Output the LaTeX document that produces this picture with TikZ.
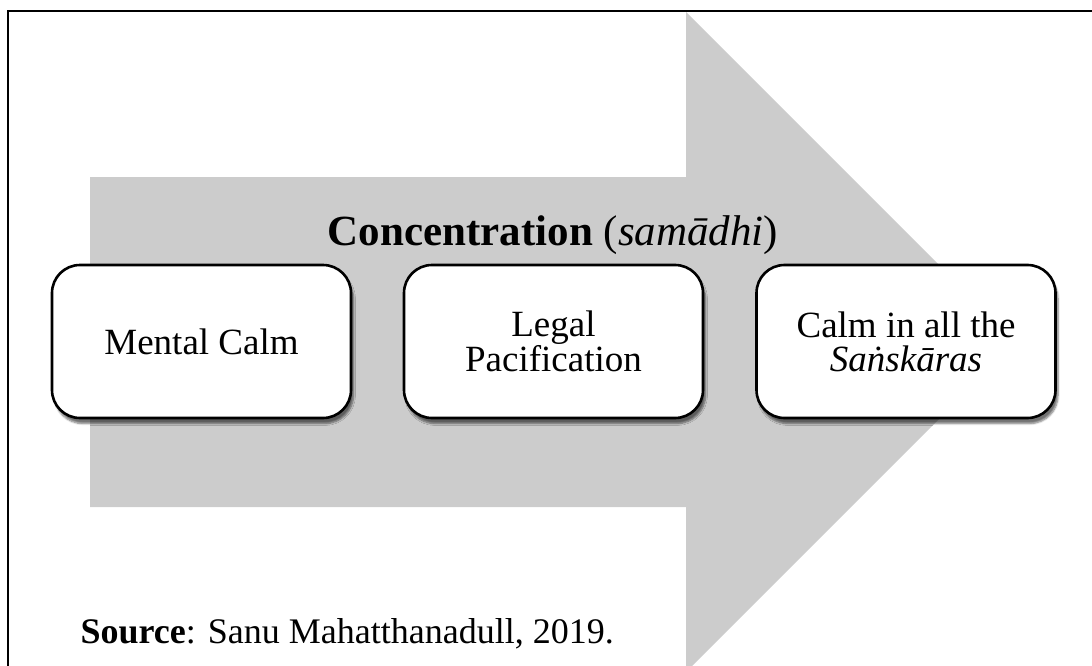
\documentclass[tikz,border=0pt]{standalone}
\usepackage{fontspec}
\setmainfont{Liberation Serif}
\usetikzlibrary{shadows.blur}
\definecolor{arrowgray}{RGB}{204,204,204}
\begin{document}
\begin{tikzpicture}[x=1pt,y=-1pt,
  stepbox/.style={draw=black, line width=2.6pt, rounded corners=28pt, fill=white,
    minimum width=299pt, minimum height=153pt, inner sep=0pt, align=center,
    font=\fontsize{37}{34}\selectfont,
    blur shadow={shadow xshift=2.5pt, shadow yshift=-5.5pt, shadow opacity=55, shadow blur steps=6}},
  frame/.style={line width=2.2pt, draw=black},
]
\useasboundingbox (0,0) rectangle (1092,666);
\clip (0,0) rectangle (1092,666);

% big process arrow in the background
\fill[arrowgray] (90,177) -- (686,177) -- (686,12) -- (1016,342) -- (686,672)
  -- (686,507) -- (90,507) -- cycle;

% frame (only its top and left sides lie inside the picture)
\draw[frame] (8,690) -- (8,11) -- (1100,11);

% heading
\node[anchor=base, font=\fontsize{43}{50}\selectfont] (title) at (553,245)
  {\textbf{Concentration} (\textit{samādhi})};

% the three stages
\node[stepbox] (mental) at (201.5,341.5) {Mental Calm};
\node[stepbox] (legal)  at (553.5,341.5) {Legal\\Pacification};
\node[stepbox] (sank)   at (906,341.5)   {Calm in all the\\\textit{Saṅskāras}};

% source line
\node[anchor=base west, font=\fontsize{36}{40}\selectfont] (src) at (77,643)
  {\textbf{Source}: Sanu Mahatthanadull, 2019.};
\end{tikzpicture}
\end{document}
